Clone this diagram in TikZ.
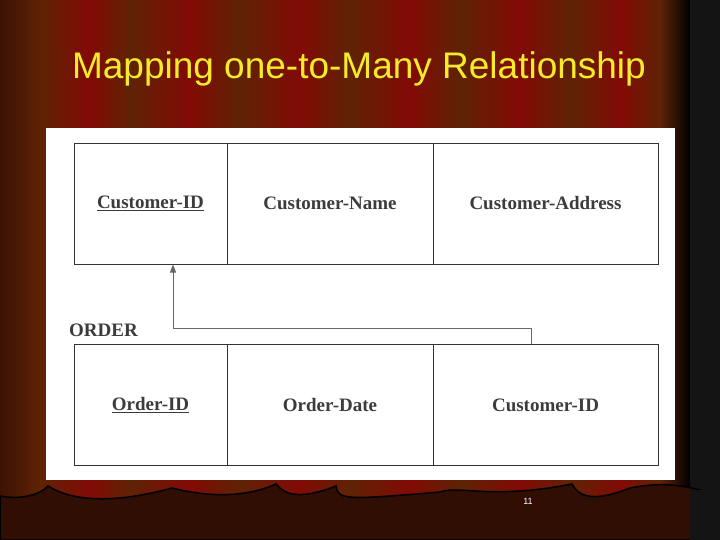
\documentclass[tikz,border=0pt]{standalone}
\usepackage{fontspec}
\setmainfont{Liberation Serif}
\newfontfamily\sans{Liberation Sans}
\usetikzlibrary{arrows.meta}
\definecolor{cdark}{RGB}{60,18,5}
\definecolor{cred}{RGB}{130,10,5}
\definecolor{cbrown}{RGB}{95,35,5}
\definecolor{ttl}{RGB}{245,235,40}
\definecolor{txt}{RGB}{60,60,60}
\tikzset{cell/.style={draw=black!80,line width=0.9pt,minimum height=121pt,inner sep=0pt,font=\bfseries\fontsize{19}{19}\selectfont,text=txt},
conn/.style={draw=black!60,line width=1pt}}
\begin{document}
\begin{tikzpicture}[x=1pt,y=-1pt]
\useasboundingbox (0,0) rectangle (720,540);
\fill[cdark] (0,0) rectangle (720,540);
% curtain stripes
\foreach \a/\b/\ca/\cb in {0/40/cdark/cbrown,40/90/cbrown/cred,90/130/cred/cbrown,130/190/cbrown/cred,190/240/cred/cbrown,240/300/cbrown/cred,300/350/cred/cbrown,350/410/cbrown/cred,410/460/cred/cbrown,460/520/cbrown/cred,520/570/cred/cbrown,570/620/cbrown/cred,620/660/cred/cbrown}
  \shade[left color=\ca,right color=\cb] (\a,0) rectangle (\b,500);
\shade[left color=cbrown,right color=black] (660,0) rectangle (690,540);
\fill[black!92] (690,0) rectangle (720,540);
% bottom band
\fill[cdark!80!black,draw=black,line width=1.5pt] (0,496) .. controls (20,500) and (40,495) .. (48,486) .. controls (70,500) and (110,505) .. (172,488) .. controls (200,495) and (240,500) .. (276,484) .. controls (285,495) and (300,500) .. (336,486) .. controls (338,500) and (345,500) .. (440,492) .. controls (460,485) and (490,500) .. (572,484) .. controls (580,500) and (600,500) .. (630,488) .. controls (660,482) and (680,485) .. (700,490) -- (700,540) -- (0,540) -- cycle;
\fill[black!92] (690,490) rectangle (720,540);
\node[font=\sans\fontsize{37}{37}\selectfont,text=ttl] (title) at (359,69) {Mapping one-to-Many Relationship};
\fill[white] (46,128) rectangle (675,480);
\node[cell,minimum width=153pt] (cid) at (150.5,203.5) {\underline{Customer-ID}};
\node[cell,minimum width=206pt] (cname) at (330,203.5) {Customer-Name};
\node[cell,minimum width=225pt] (caddr) at (545.5,203.5) {Customer-Address};
\node[cell,minimum width=153pt] (oid) at (150.5,405) {\underline{Order-ID}};
\node[cell,minimum width=206pt] (odate) at (330,405) {Order-Date};
\node[cell,minimum width=225pt] (ocid) at (545.5,405) {Customer-ID};
\node[font=\bfseries\fontsize{19}{19}\selectfont,text=txt,anchor=west,inner sep=0pt] (order) at (69,330) {ORDER};
\coordinate (fk) at (531,344);
\coordinate (pk) at (173,264.5);
\draw[conn,-{Triangle[length=8pt,width=6pt]}] (fk) |- (173,328) -- (pk);
\node[font=\sans\fontsize{9}{9}\selectfont,text=white] (num) at (528,501) {11};
\end{tikzpicture}
\end{document}
